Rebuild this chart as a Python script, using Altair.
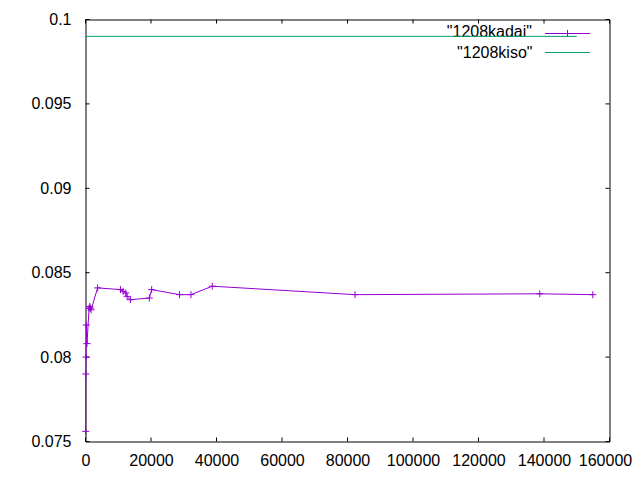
import altair as alt
import pandas as pd

# ---- data ----
kadai_x = [50, 100, 150, 250, 450, 1100, 1300, 1500, 1700, 3700,
           10700, 11500, 12300, 12700, 13700, 19500, 20200, 28700,
           32200, 38700, 82300, 138700, 154900]
kadai_y = [0.0756, 0.0790, 0.0800, 0.0819, 0.0808, 0.0829, 0.0830, 0.0829, 0.0828, 0.0841,
           0.0840, 0.0839, 0.0838, 0.0836, 0.0834, 0.0835, 0.0840, 0.0837,
           0.0837, 0.0842, 0.0837, 0.08375, 0.0837]
kiso_x = [0, 150000]
kiso_y = [0.099, 0.099]
x_ticks = [0, 20000, 40000, 60000, 80000, 100000, 120000, 140000, 160000]
y_ticks = [0.075, 0.08, 0.085, 0.09, 0.095, 0.1]
series_names = ['"1208kadai"', '"1208kiso"']

PURPLE = "#9400D3"
GREEN = "#009E73"
FONT = "Liberation Sans"
FS = 16
W, H = 524, 422
TL = 4  # tick length (inward)
PLUS = "M-1,0L1,0M0,-1L0,1"

xs = alt.Scale(domain=[0, 160000], nice=False, zero=False)
ys = alt.Scale(domain=[0.075, 0.1], nice=False, zero=False)

x_axis = alt.Axis(values=x_ticks, format="d", ticks=False, domain=False, grid=False,
                  labelPadding=11, title=None, labelFontSize=FS, labelFont=FONT,
                  labelColor="black", labelFlush=False, labelOverlap=False,
                  labelOffset={"condition": {"test": "datum.value >= 160000", "value": -4.5},
                               "value": 0})
y_axis = alt.Axis(values=y_ticks, format=".3~f", ticks=False, domain=False, grid=False,
                  labelPadding=14.5, title=None, labelFontSize=FS, labelFont=FONT,
                  labelColor="black", labelFlush=False, labelOverlap=False)


def X(field):
    return alt.X(field, scale=xs, axis=x_axis)


def Y(field):
    return alt.Y(field, scale=ys, axis=y_axis)


kadai = pd.DataFrame({"x": kadai_x, "y": kadai_y})
kiso = pd.DataFrame({"x": kiso_x, "y": kiso_y})
xt = pd.DataFrame({"t": x_ticks})
yt = pd.DataFrame({"t": y_ticks})
one = pd.DataFrame({"a": [0]})

kadai_line = alt.Chart(kadai).mark_line(color=PURPLE, strokeWidth=1).encode(
    x=X("x:Q"), y=Y("y:Q"))
kadai_pts = alt.Chart(kadai).mark_point(shape=PLUS, size=49, filled=False,
                                         color=PURPLE, strokeWidth=1, opacity=1).encode(
    x=X("x:Q"), y=Y("y:Q"))
kiso_line = alt.Chart(kiso).mark_line(color=GREEN, strokeWidth=1).encode(
    x=X("x:Q"), y=Y("y:Q"))

# inward ticks on all four sides (gnuplot style)
xb = alt.Chart(xt).mark_rule(color="black", strokeWidth=1).encode(
    x=X("t:Q"), y=alt.value(H), y2=alt.value(H - TL))
xtp = alt.Chart(xt).mark_rule(color="black", strokeWidth=1).encode(
    x=X("t:Q"), y=alt.value(0), y2=alt.value(TL))
yl = alt.Chart(yt).mark_rule(color="black", strokeWidth=1).encode(
    y=Y("t:Q"), x=alt.value(0), x2=alt.value(TL))
yr = alt.Chart(yt).mark_rule(color="black", strokeWidth=1).encode(
    y=Y("t:Q"), x=alt.value(W), x2=alt.value(W - TL))

# key (top right, text left of sample)
k1_text = alt.Chart(pd.DataFrame({"name": [series_names[0]]})).mark_text(
    align="right", baseline="alphabetic", font=FONT, fontSize=FS, color="black").encode(
    text="name:N", x=alt.value(446.5), y=alt.value(17.5))
k1_line = alt.Chart(one).mark_rule(color=PURPLE, strokeWidth=1).encode(
    x=alt.value(459.5), x2=alt.value(504.5), y=alt.value(14))
k1_pt = alt.Chart(one).mark_point(shape=PLUS, size=49, filled=False, color=PURPLE,
                                  strokeWidth=1, opacity=1).encode(
    x=alt.value(482), y=alt.value(14))
k2_text = alt.Chart(pd.DataFrame({"name": [series_names[1]]})).mark_text(
    align="right", baseline="alphabetic", font=FONT, fontSize=FS, color="black").encode(
    text="name:N", x=alt.value(447), y=alt.value(38))
k2_line = alt.Chart(one).mark_rule(color=GREEN, strokeWidth=1).encode(
    x=alt.value(459.5), x2=alt.value(504.5), y=alt.value(33))

chart = alt.layer(
    kadai_line, xb, xtp, yl, yr,
    k1_text, k1_line, k1_pt, kadai_pts,
    k2_text, k2_line, kiso_line,
).properties(
    width=W, height=H,
    autosize=alt.AutoSizeParams(type="none"),
    padding={"left": 77.5, "top": 11.5, "right": 22, "bottom": 26},
    background="white",
).configure_view(stroke="black", strokeWidth=1)

chart.save("out.html", embed_options={"renderer": "svg", "actions": False})
